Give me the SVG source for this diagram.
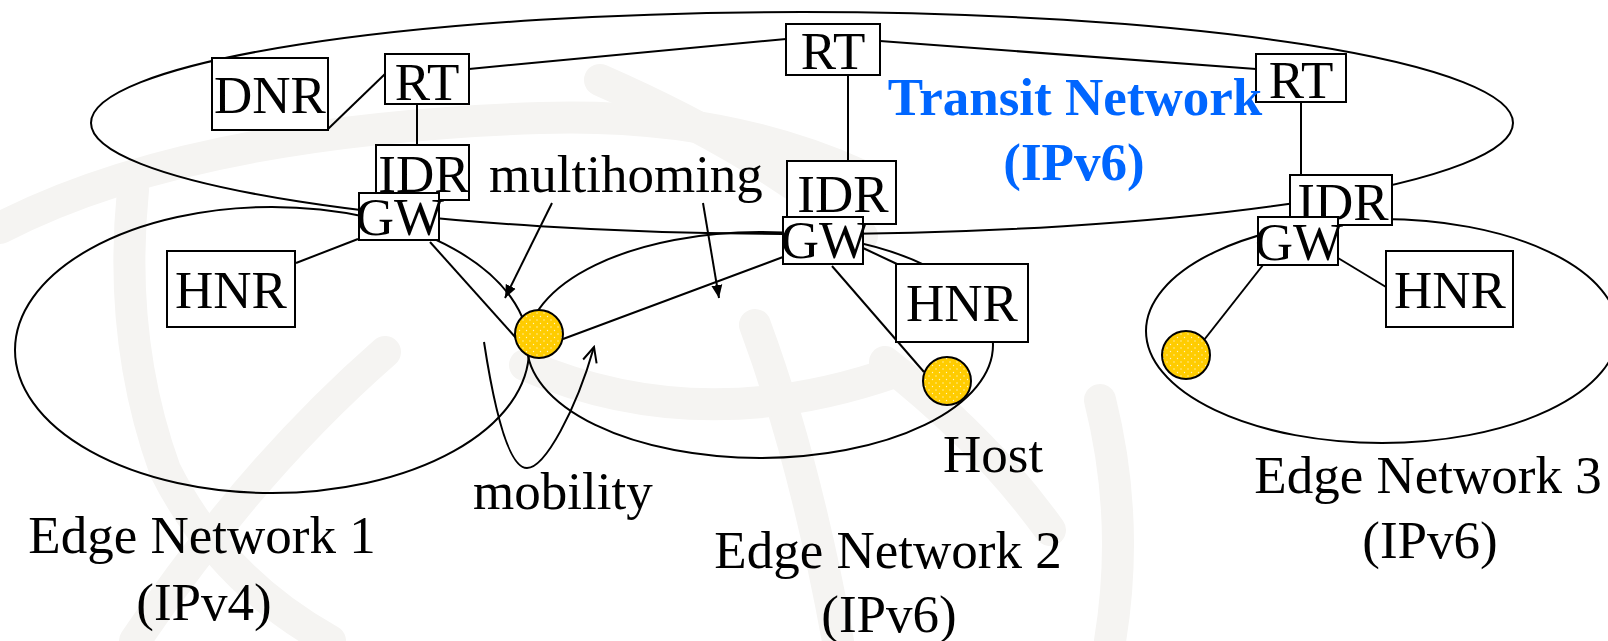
<svg xmlns="http://www.w3.org/2000/svg" width="1608" height="641" viewBox="0 0 1608 641">
  <defs>
    <style>
      .net { fill: none; stroke: #000; stroke-width: 2; }
      .link { fill: none; stroke: #000; stroke-width: 2; }
      .box { fill: #fff; stroke: #000; stroke-width: 2; }
      .lbl { font-family: "Liberation Serif", "Times New Roman", serif; font-size: 53px; fill: #000; }
      .mid { text-anchor: middle; }
      .transit { font-family: "Liberation Serif", "Times New Roman", serif; font-size: 53px; font-weight: bold; fill: #0066FF; text-anchor: middle; }
      .host { fill: url(#dots); stroke: #000; stroke-width: 2; }
      .wm { fill: none; stroke: #f5f4f2; stroke-width: 32; stroke-linecap: round; }
    </style>
    <pattern id="dots" width="7" height="7" patternUnits="userSpaceOnUse">
      <rect width="7" height="7" fill="#FFCC00"/>
      <circle cx="1.5" cy="1.5" r="0.7" fill="#fff4c0"/>
      <circle cx="5" cy="5" r="0.7" fill="#fff4c0"/>
    </pattern>
    <marker id="solidHead" markerUnits="userSpaceOnUse" markerWidth="14" markerHeight="12" refX="13" refY="6" orient="auto">
      <path d="M0,0.5 L13,6 L0,11.5 z" fill="#000"/>
    </marker>
    <marker id="openHead" markerUnits="userSpaceOnUse" markerWidth="18" markerHeight="16" refX="16" refY="8" orient="auto">
      <path d="M1,1 L16,8 L1,15" fill="none" stroke="#000" stroke-width="2"/>
    </marker>
  </defs>

  <rect width="1608" height="641" fill="#fff"/>

  <!-- faint globe emblem in the background -->
  <g id="watermark">
    <path class="wm" d="M0,228 Q190,130 540,118 Q720,112 860,175"/>
    <path class="wm" d="M133,190 Q118,340 165,470 Q220,580 330,641"/>
    <path class="wm" d="M385,352 Q250,470 135,641"/>
    <path class="wm" d="M600,80 Q760,150 862,236"/>
    <path class="wm" d="M755,325 Q805,460 838,641"/>
    <path class="wm" d="M525,365 Q700,440 895,372"/>
    <path class="wm" d="M885,362 Q985,440 1050,530"/>
    <path class="wm" d="M1100,400 Q1130,520 1110,641"/>
  </g>

  <!-- network boundaries -->
  <g id="networks">
    <ellipse id="transit-net" class="net" cx="802" cy="123" rx="711" ry="111"/>
    <ellipse id="edge-net-1" class="net" cx="272" cy="350" rx="257" ry="143"/>
    <ellipse id="edge-net-2" class="net" cx="760" cy="345" rx="233" ry="113"/>
    <ellipse id="edge-net-3" class="net" cx="1382" cy="331" rx="236" ry="112"/>
  </g>

  <!-- connectors -->
  <g id="connectors">
    <line class="link" x1="328" y1="129" x2="385" y2="74"/>
    <line class="link" x1="417" y1="104" x2="417" y2="145"/>
    <line class="link" x1="469" y1="69" x2="786" y2="39"/>
    <line class="link" x1="880" y1="41" x2="1256" y2="69"/>
    <line class="link" x1="848" y1="75" x2="848" y2="161"/>
    <line class="link" x1="1301" y1="102" x2="1301" y2="175"/>
    <line class="link" x1="358" y1="239" x2="296" y2="263"/>
    <line class="link" x1="430" y1="242" x2="516" y2="338"/>
    <line class="link" x1="783" y1="257" x2="563" y2="339"/>
    <line class="link" x1="832" y1="266" x2="924" y2="372"/>
    <line class="link" x1="863" y1="248" x2="897" y2="264"/>
    <line class="link" x1="1338" y1="258" x2="1386" y2="287"/>
    <line class="link" x1="1263" y1="265" x2="1204" y2="340"/>
    <!-- multihoming arrows -->
    <line class="link" x1="552" y1="203" x2="505" y2="298" marker-end="url(#solidHead)"/>
    <line class="link" x1="703" y1="203" x2="719" y2="298" marker-end="url(#solidHead)"/>
    <!-- mobility arrow -->
    <path class="link" d="M484,342 C496,420 510,468 527,468 C545,468 576,410 594,347" marker-end="url(#openHead)"/>
  </g>

  <!-- transit network nodes -->
  <g id="dnr">
    <rect class="box" x="212" y="58" width="116" height="72"/>
    <text class="lbl mid" x="270" y="113">DNR</text>
  </g>
  <g id="rt-1">
    <rect class="box" x="385" y="54" width="84" height="50"/>
    <text class="lbl mid" x="427" y="100">RT</text>
  </g>
  <g id="rt-2">
    <rect class="box" x="786" y="24" width="94" height="51"/>
    <text class="lbl mid" x="833" y="69">RT</text>
  </g>
  <g id="rt-3">
    <rect class="box" x="1256" y="54" width="90" height="48"/>
    <text class="lbl mid" x="1301" y="98">RT</text>
  </g>
  <g id="idr-1">
    <rect class="box" x="376" y="145" width="93" height="55"/>
    <text class="lbl mid" x="424" y="192">IDR</text>
  </g>
  <g id="idr-2">
    <rect class="box" x="787" y="161" width="109" height="63"/>
    <text class="lbl mid" x="843" y="212">IDR</text>
  </g>
  <g id="idr-3">
    <rect class="box" x="1290" y="175" width="102" height="50"/>
    <text class="lbl mid" x="1343" y="220">IDR</text>
  </g>

  <!-- gateways -->
  <g id="gw-1">
    <rect class="box" x="359" y="193" width="80" height="47"/>
    <text class="lbl mid" x="400" y="235">GW</text>
  </g>
  <g id="gw-2">
    <rect class="box" x="783" y="217" width="80" height="47"/>
    <text class="lbl mid" x="825" y="258">GW</text>
  </g>
  <g id="gw-3">
    <rect class="box" x="1258" y="217" width="80" height="48"/>
    <text class="lbl mid" x="1299" y="260">GW</text>
  </g>

  <!-- home name resolvers -->
  <g id="hnr-1">
    <rect class="box" x="167" y="251" width="128" height="76"/>
    <text class="lbl mid" x="231" y="308">HNR</text>
  </g>
  <g id="hnr-2">
    <rect class="box" x="896" y="264" width="132" height="78"/>
    <text class="lbl mid" x="962" y="321">HNR</text>
  </g>
  <g id="hnr-3">
    <rect class="box" x="1386" y="251" width="127" height="76"/>
    <text class="lbl mid" x="1450" y="308">HNR</text>
  </g>

  <!-- hosts -->
  <g id="host-mobile">
    <circle class="host" cx="539" cy="334" r="24"/>
  </g>
  <g id="host-2">
    <circle class="host" cx="947" cy="381" r="24"/>
  </g>
  <g id="host-3">
    <circle class="host" cx="1186" cy="355" r="24"/>
  </g>

  <!-- labels -->
  <g id="labels">
    <text class="lbl" x="489" y="192">multihoming</text>
    <text class="lbl" x="473" y="509">mobility</text>
    <text class="lbl" x="943" y="472">Host</text>
    <text class="lbl mid" x="202" y="553">Edge Network 1</text>
    <text class="lbl mid" x="204" y="620">(IPv4)</text>
    <text class="lbl mid" x="888" y="568">Edge Network 2</text>
    <text class="lbl mid" x="889" y="632">(IPv6)</text>
    <text class="lbl mid" x="1428" y="493">Edge Network 3</text>
    <text class="lbl mid" x="1430" y="558">(IPv6)</text>
  </g>

  <g id="transit-label">
    <text class="transit" x="1075" y="115">Transit Network</text>
    <text class="transit" x="1074" y="180">(IPv6)</text>
  </g>
</svg>
